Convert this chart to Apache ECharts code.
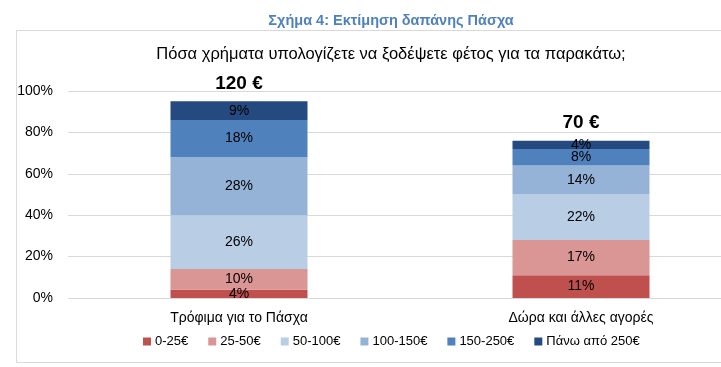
<!DOCTYPE html>
<html>
<head>
<meta charset="utf-8">
<script src="https://cdn.jsdelivr.net/npm/echarts@6/dist/echarts.min.js"></script>
<style>
html,body{margin:0;padding:0;background:#fff;}
#c{width:721px;height:367px;}
</style>
</head>
<body>
<div id="c"></div>
<script>
const categories = ['Τρόφιμα για το Πάσχα', 'Δώρα και άλλες αγορές'];
const seriesNames = ['0-25€', '25-50€', '50-100€', '100-150€', '150-250€', 'Πάνω από 250€'];
const s0_25 = [4, 11];
const s25_50 = [10, 17];
const s50_100 = [26, 22];
const s100_150 = [28, 14];
const s150_250 = [18, 8];
const s250plus = [9, 4];
const totals = ['120 €', '70 €'];
const yTicks = [0, 20, 40, 60, 80, 100];
const colors = ['#C0504D', '#DA9694', '#B9CDE5', '#95B3D7', '#4F81BD', '#244A80'];

const FONT = "'Liberation Sans', Arial, sans-serif";
const values = [s0_25, s25_50, s50_100, s100_150, s150_250, s250plus];

const series = values.map((v, i) => ({
  name: seriesNames[i],
  type: 'bar',
  stack: 'total',
  barWidth: 137,
  data: v,
  itemStyle: { color: colors[i] },
  label: {
    show: true,
    position: 'inside',
    formatter: '{c}%',
    color: '#000',
    fontFamily: FONT,
    fontSize: 14
  }
}));
series.push({
  name: 'total',
  type: 'bar',
  stack: 'total',
  barWidth: 137,
  data: [0, 0],
  itemStyle: { color: 'transparent' },
  label: {
    show: true,
    position: 'top',
    distance: 8,
    formatter: p => totals[p.dataIndex],
    color: '#000',
    fontFamily: FONT,
    fontWeight: 'bold',
    fontSize: 19
  },
  silent: true
});

const chart = echarts.init(document.getElementById('c'), null, { renderer: 'canvas' });
chart.setOption({
  animation: false,
  backgroundColor: '#fff',
  graphic: [
    {
      type: 'rect',
      shape: { x: 16.5, y: 30.5, width: 720, height: 332 },
      style: { fill: 'none', stroke: '#D9D9D9', lineWidth: 1 },
      z: -1
    },
    {
      type: 'text',
      style: {
        text: 'Σχήμα 4: Εκτίμηση δαπάνης Πάσχα',
        x: 391, y: 21,
        align: 'center', verticalAlign: 'middle',
        fill: '#4F81BD',
        fontFamily: FONT,
        fontWeight: 'bold',
        fontSize: 14.5
      }
    },
    {
      type: 'text',
      style: {
        text: 'Πόσα χρήματα υπολογίζετε να ξοδέψετε φέτος για τα παρακάτω;',
        x: 391, y: 54,
        align: 'center', verticalAlign: 'middle',
        fill: '#000',
        fontFamily: FONT,
        fontSize: 16.5
      }
    }
  ],
  grid: { left: 68, width: 684, top: 91, bottom: 69, outerBoundsMode: 'none', containLabel: false },
  legend: {
    data: seriesNames,
    left: 138,
    top: 330,
    itemWidth: 8,
    itemHeight: 8,
    itemGap: 20,
    icon: 'rect',
    textStyle: { fontFamily: FONT, fontSize: 13, color: '#000', padding: [0, 0, 0, -1] }
  },
  xAxis: {
    type: 'category',
    data: categories,
    axisLine: { show: false },
    axisTick: { show: false },
    axisLabel: { margin: 13, color: '#000', fontFamily: FONT, fontSize: 14 }
  },
  yAxis: {
    type: 'value',
    min: yTicks[0],
    max: yTicks[yTicks.length - 1],
    interval: 20,
    axisLine: { show: false },
    axisTick: { show: false },
    axisLabel: { formatter: '{value}%', margin: 15, color: '#000', fontFamily: FONT, fontSize: 14 },
    splitLine: { lineStyle: { color: '#D9D9D9', width: 1 } }
  },
  series: series
});
</script>
</body>
</html>
